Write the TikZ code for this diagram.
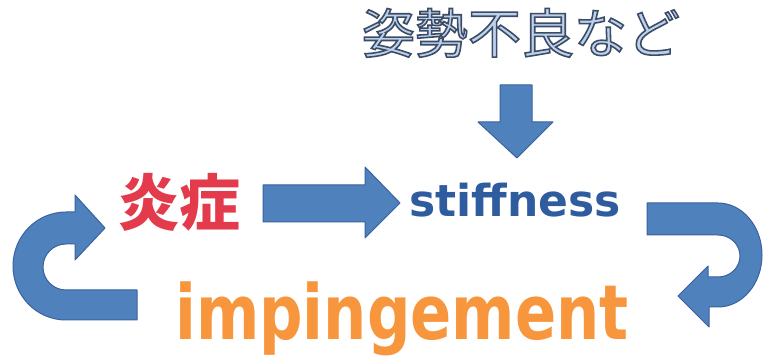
\documentclass[tikz,border=0pt]{standalone}
\usepackage{fontspec}
\newfontfamily\jpfont{Noto Sans CJK JP}
\newfontfamily\jptitle{Noto Sans CJK JP}[FakeBold=3]
\newfontfamily\latfont{DejaVu Sans}
\definecolor{arrowfill}{HTML}{4F81BD}
\definecolor{arrowline}{HTML}{3A62A0}
\definecolor{titlefill}{HTML}{BCD2EC}
\definecolor{inflred}{HTML}{E33A4C}
\definecolor{stiffblue}{HTML}{2F5C9E}
\definecolor{impor}{HTML}{F7963C}
\newcommand{\strokedark}{\special{pdf:code 0.24 0.30 0.40 RG}}
\begin{document}
\begin{tikzpicture}[x=1pt,y=-1pt,
  blockarrow/.style={fill=arrowfill,draw=arrowline,line width=1pt,line join=round},
  lbl/.style={inner sep=0pt,anchor=base}]
\useasboundingbox[fill=white] (0,0) rectangle (763,363);

% texts
\node[lbl,text=titlefill,font=\jptitle\fontsize{53}{53}\selectfont] (cause) at (521,53) {\strokedark 姿勢不良など};
\node[lbl,text=inflred,font=\jpfont\bfseries\fontsize{61}{61}\selectfont] (infl) at (179,226) {炎症};
\node[lbl,text=stiffblue,font=\latfont\bfseries\fontsize{44}{44}\selectfont] (stiff) at (515,217) {stiffness};
\node[lbl,text=impor,font=\latfont\bfseries\fontsize{76}{76}\selectfont] (imp) at (402,340) {\scalebox{0.8}[1]{impingement}};

% down arrow
\draw[blockarrow] (500,85) -- (532,85) -- (532,122) -- (553,122) -- (517,158) -- (478,122) -- (500,122) -- cycle;
% straight right arrow
\draw[blockarrow] (263,185) -- (365,185) -- (365,167) -- (400,203) -- (365,238) -- (365,222) -- (263,222) -- cycle;
% left U-turn arrow
\draw[blockarrow] (137,320) -- (66,320) arc[start angle=90,end angle=270,x radius=53,y radius=54]
  -- (75,212) -- (75,195) -- (105,228) -- (75,260) -- (75,244) -- (66,244)
  arc[start angle=270,end angle=90,x radius=23,y radius=23] -- (137,290) -- cycle;
% right U-turn arrow
\draw[blockarrow] (647,203) -- (718,203) arc[start angle=-90,end angle=90,x radius=44,y radius=52]
  -- (709,307) -- (709,327) -- (678,296) -- (708,266) -- (708,277) -- (718,277)
  arc[start angle=90,end angle=-90,x radius=22,y radius=21] -- (647,235) -- cycle;
\end{tikzpicture}
\end{document}
